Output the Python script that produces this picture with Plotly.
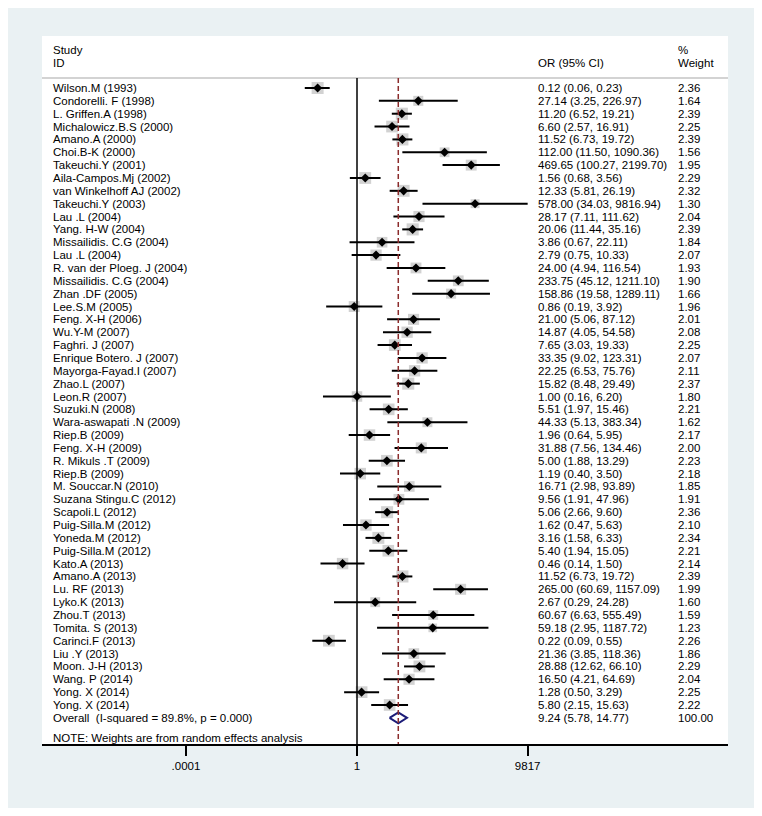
import plotly.graph_objects as go
import math

studies = ["Wilson.M (1993)", "Condorelli. F (1998)", "L. Griffen.A (1998)", "Michalowicz.B.S (2000)",
           "Amano.A (2000)", "Choi.B-K (2000)", "Takeuchi.Y (2001)", "Aila-Campos.Mj (2002)",
           "van Winkelhoff AJ (2002)", "Takeuchi.Y (2003)", "Lau .L (2004)", "Yang. H-W (2004)",
           "Missailidis. C.G (2004)", "Lau .L (2004)", "R. van der Ploeg. J (2004)", "Missailidis. C.G (2004)",
           "Zhan .DF (2005)", "Lee.S.M (2005)", "Feng. X-H (2006)", "Wu.Y-M (2007)", "Faghri. J (2007)",
           "Enrique Botero. J (2007)", "Mayorga-Fayad.I (2007)", "Zhao.L (2007)", "Leon.R (2007)",
           "Suzuki.N (2008)", "Wara-aswapati .N (2009)", "Riep.B (2009)", "Feng. X-H (2009)",
           "R. Mikuls .T (2009)", "Riep.B (2009)", "M. Souccar.N (2010)", "Suzana Stingu.C (2012)",
           "Scapoli.L (2012)", "Puig-Silla.M (2012)", "Yoneda.M (2012)", "Puig-Silla.M (2012)",
           "Kato.A (2013)", "Amano.A (2013)", "Lu. RF (2013)", "Lyko.K (2013)", "Zhou.T (2013)",
           "Tomita. S (2013)", "Carinci.F (2013)", "Liu .Y (2013)", "Moon. J-H (2013)", "Wang. P (2014)",
           "Yong. X (2014)", "Yong. X (2014)"]
odds = [0.12, 27.14, 11.20, 6.60, 11.52, 112.00, 469.65, 1.56, 12.33, 578.00, 28.17, 20.06, 3.86, 2.79,
        24.00, 233.75, 158.86, 0.86, 21.00, 14.87, 7.65, 33.35, 22.25, 15.82, 1.00, 5.51, 44.33, 1.96,
        31.88, 5.00, 1.19, 16.71, 9.56, 5.06, 1.62, 3.16, 5.40, 0.46, 11.52, 265.00, 2.67, 60.67, 59.18,
        0.22, 21.36, 28.88, 16.50, 1.28, 5.80]
lower = [0.06, 3.25, 6.52, 2.57, 6.73, 11.50, 100.27, 0.68, 5.81, 34.03, 7.11, 11.44, 0.67, 0.75,
         4.94, 45.12, 19.58, 0.19, 5.06, 4.05, 3.03, 9.02, 6.53, 8.48, 0.16, 1.97, 5.13, 0.64,
         7.56, 1.88, 0.40, 2.98, 1.91, 2.66, 0.47, 1.58, 1.94, 0.14, 6.73, 60.69, 0.29, 6.63, 2.95,
         0.09, 3.85, 12.62, 4.21, 0.50, 2.15]
upper = [0.23, 226.97, 19.21, 16.91, 19.72, 1090.36, 2199.70, 3.56, 26.19, 9816.94, 111.62, 35.16, 22.11,
         10.33, 116.54, 1211.10, 1289.11, 3.92, 87.12, 54.58, 19.33, 123.31, 75.76, 29.49, 6.20, 15.46,
         383.34, 5.95, 134.46, 13.29, 3.50, 93.89, 47.96, 9.60, 5.63, 6.33, 15.05, 1.50, 19.72, 1157.09,
         24.28, 555.49, 1187.72, 0.55, 118.36, 66.10, 64.69, 3.29, 15.63]
weights = [2.36, 1.64, 2.39, 2.25, 2.39, 1.56, 1.95, 2.29, 2.32, 1.30, 2.04, 2.39, 1.84, 2.07, 1.93, 1.90,
           1.66, 1.96, 2.01, 2.08, 2.25, 2.07, 2.11, 2.37, 1.80, 2.21, 1.62, 2.17, 2.00, 2.23, 2.18, 1.85,
           1.91, 2.36, 2.10, 2.34, 2.21, 2.14, 2.39, 1.99, 1.60, 1.59, 1.23, 2.26, 1.86, 2.29, 2.04, 2.25,
           2.22]
overall_label = "Overall\u00a0 (I-squared = 89.8%, p = 0.000)"
overall_or, overall_lo, overall_hi, overall_w = 9.24, 5.78, 14.77, 100.00
note_text = "NOTE: Weights are from random effects analysis"
tick_vals = [0.0001, 1, 9817]
tick_text = [".0001", "1", "9817"]

OFF = 8  # page body margin
W, H = 762 - 2 * OFF, 816 - 2 * OFF
L, R, T, B = 42 - OFF, 728 - OFF, 36 - OFF, 744 - OFF
X_ONE = 357 - OFF       # pixel of OR = 1
PX_DEC = 42.75          # pixels per decade
ROW0 = 88 - OFF         # pixel of first row
ROW_H = 12.854          # pixels per row

n = len(studies)
y_rows = list(range(n))
y_overall = n
y_note = n + 1.55
y_head_line = -0.78

def px_x(p):
    return (p - OFF - L) / (R - L)

fig = go.Figure()

wx, wy = [], []
for i in range(n):
    wx += [lower[i], upper[i], None]
    wy += [y_rows[i], y_rows[i], None]
fig.add_trace(go.Scatter(x=odds, y=y_rows, mode="markers",
                         marker=dict(symbol="square", color="#bfbfbf",
                                     size=[12 * math.sqrt(w / 2.36) for w in weights], line=dict(width=0)),
                         hoverinfo="skip", showlegend=False))
fig.add_trace(go.Scatter(x=wx, y=wy, mode="lines", line=dict(color="black", width=2),
                         hoverinfo="skip", showlegend=False))
fig.add_trace(go.Scatter(x=odds, y=y_rows, mode="markers",
                         marker=dict(symbol="diamond", color="black", size=7),
                         hoverinfo="skip", showlegend=False))
dh = 0.43
fig.add_trace(go.Scatter(x=[overall_lo, overall_or, overall_hi, overall_or, overall_lo],
                         y=[y_overall, y_overall - dh, y_overall, y_overall + dh, y_overall],
                         mode="lines", line=dict(color="#1c1c78", width=2),
                         hoverinfo="skip", showlegend=False))

y_top = (T - ROW0) / ROW_H
y_bot = (B - ROW0) / ROW_H

shapes = [
    dict(type="line", xref="paper", yref="y", x0=0, x1=1, y0=y_head_line, y1=y_head_line,
         line=dict(color="#c4c4c4", width=1.5)),
    dict(type="line", xref="x", yref="y", x0=1, x1=1, y0=y_head_line, y1=y_bot,
         line=dict(color="black", width=1.5)),
    dict(type="line", xref="x", yref="y", x0=overall_or, x1=overall_or, y0=y_head_line, y1=y_bot,
         line=dict(color="#8b2c2c", width=1.5, dash="5px,3px")),
]

FONT = dict(family="Arial, Liberation Sans, sans-serif", size=11.5, color="black")
ann = []
x_study, x_or, x_w = px_x(51), px_x(536), px_x(676)

def add(txt, x, y):
    ann.append(dict(text=txt, x=x, y=y, xref="paper", yref="y", xanchor="left", yanchor="middle",
                    showarrow=False, font=FONT))

add("Study", x_study, -2.96)
add("ID", x_study, -1.94)
add("OR (95% CI)", x_or, -1.94)
add("%", x_w, -2.96)
add("Weight", x_w, -1.94)
for i in range(n):
    add(studies[i], x_study, y_rows[i])
    add(f"{odds[i]:.2f} ({lower[i]:.2f}, {upper[i]:.2f})", x_or, y_rows[i])
    add(f"{weights[i]:.2f}", x_w, y_rows[i])
add(overall_label, x_study, y_overall)
add(f"{overall_or:.2f} ({overall_lo:.2f}, {overall_hi:.2f})", x_or, y_overall)
add(f"{overall_w:.2f}", x_w, y_overall)
add(note_text, x_study, y_note)

xlo = (L - X_ONE) / PX_DEC
xhi = (R - X_ONE) / PX_DEC

fig.update_layout(
    width=W, height=H,
    margin=dict(l=L, r=W - R, t=T, b=H - B, pad=0),
    paper_bgcolor="#eaf1f3", plot_bgcolor="white",
    shapes=shapes, annotations=ann,
    xaxis=dict(type="log", range=[xlo, xhi], tickvals=tick_vals, ticktext=tick_text,
               showgrid=False, zeroline=False, showline=True, linecolor="black", linewidth=1.5,
               ticks="outside", ticklen=10, tickwidth=2, tickcolor="black",
               tickfont=FONT, fixedrange=True),
    yaxis=dict(range=[y_bot, y_top], visible=False, showgrid=False, zeroline=False, fixedrange=True),
    showlegend=False,
)

fig.write_html("out.html")
